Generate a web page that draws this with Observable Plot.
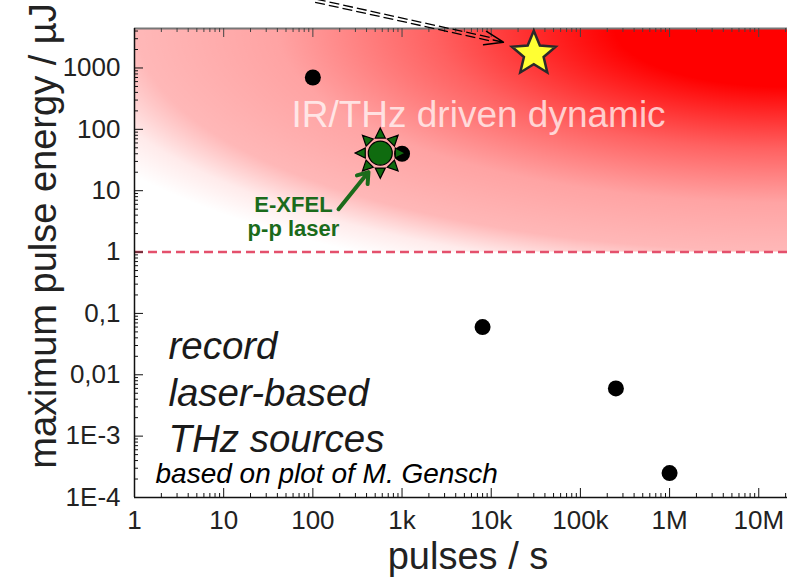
<!DOCTYPE html>
<html><head><meta charset="utf-8">
<script src="https://cdn.jsdelivr.net/npm/d3@7"></script>
<script src="https://cdn.jsdelivr.net/npm/@observablehq/plot@0.6"></script>
<style>body{margin:0;background:#fff} svg{display:block}</style>
</head><body><div id="chart"></div>
<script>
// ---- data ----
const pulseRates = [100, 1000, 8000, 250000, 1000000];
const pulseEnergies = [700, 40, 0.06, 0.006, 0.00025];
const starRate = [30000];
const starEnergy = [1700];
const xfelRate = [570];
const xfelEnergy = [41];
const thresholdEnergy = [1];
const xTicks = [1, 10, 100, 1e3, 1e4, 1e5, 1e6, 1e7];
const xTickLabels = ["1", "10", "100", "1k", "10k", "100k", "1M", "10M"];
const yTicks = [1e-4, 1e-3, 1e-2, 1e-1, 1, 10, 100, 1000];
const yTickLabels = ["1E-4", "1E-3", "0,01", "0,1", "1", "10", "100", "1000"];
const xDomain = [1, 2.1e7];
const yDomain = [1e-4, 4400];

// ---- layout ----
const W = 787, H = 578, mL = 134, mR = 0, mT = 28, mB = 81;
const frameW = W - mL - mR, frameH = H - mT - mB;

const xLabel = new Map(xTicks.map((d, i) => [d, xTickLabels[i]]));
const yLabel = new Map(yTicks.map((d, i) => [d, yTickLabels[i]]));
const xMinor = xTicks.flatMap(d => d3.range(2, 10).map(k => k * d)).filter(v => v < xDomain[1]);
const yMinor = yTicks.flatMap(d => d3.range(2, 10).map(k => k * d)).filter(v => v < yDomain[1]);

const sunSymbol = {
  draw(ctx, size) {
    const r = Math.sqrt(size / Math.PI);
    ctx.moveTo(r, 0); ctx.arc(0, 0, r, 0, 2 * Math.PI);
    for (let k = 0; k < 8; k++) {
      const a = k * Math.PI / 4, c = Math.cos(a), s = Math.sin(a);
      const r1 = r * 1.25, r2 = r * 2.1, hw = r * 0.42;
      ctx.moveTo(r2 * c, r2 * s);
      ctx.lineTo(r1 * c - hw * s, r1 * s + hw * c);
      ctx.lineTo(r1 * c + hw * s, r1 * s - hw * c);
      ctx.closePath();
    }
  }
};
const starSymbol = {
  draw(ctx, size) {
    const R = Math.sqrt(size / Math.PI), ri = R * 0.45;
    for (let k = 0; k < 10; k++) {
      const a = -Math.PI / 2 + k * Math.PI / 5, rr = k % 2 ? ri : R;
      const px = rr * Math.cos(a), py = rr * Math.sin(a);
      k ? ctx.lineTo(px, py) : ctx.moveTo(px, py);
    }
    ctx.closePath();
  }
};

const gradStops = [[0, 1], [0.22, 1], [0.45, 0.62], [0.65, 0.36], [0.83, 0.28], [0.92, 0.08], [1, 0]];
const defsMark = () => {
  const defs = d3.create("svg:defs");
  const g = defs.append("radialGradient").attr("id", "thzGrad")
    .attr("cx", 1).attr("cy", 0).attr("fx", 1).attr("fy", 0).attr("r", 1.2);
  for (const [o, a] of gradStops)
    g.append("stop").attr("offset", o).attr("stop-color", "#ff0000").attr("stop-opacity", a);
  return defs.node();
};

const chart = Plot.plot({
  width: W, height: H,
  marginLeft: mL, marginRight: mR, marginTop: mT, marginBottom: mB,
  style: {fontFamily: "'Liberation Sans', Arial, sans-serif", background: "#fff", overflow: "visible"},
  x: {type: "log", domain: xDomain},
  y: {type: "log", domain: yDomain},
  marks: [
    defsMark,
    Plot.rect([0], {x1: xDomain[0], x2: xDomain[1], y1: thresholdEnergy[0], y2: yDomain[1], fill: "url(#thzGrad)"}),
    Plot.ruleY(thresholdEnergy, {y: d => d, stroke: "#e4506c", strokeWidth: 2.5, strokeDasharray: "9,5"}),
    // frame lines
    Plot.ruleY([yDomain[1]], {y: d => d, stroke: "#777", strokeWidth: 2}),
    Plot.ruleY([yDomain[0]], {y: d => d, stroke: "#111", strokeWidth: 1.5}),
    Plot.ruleX([xDomain[0]], {x: d => d, stroke: "#111", strokeWidth: 1.5}),
    // inward ticks
    Plot.tickX(xTicks, {x: d => d, insetTop: frameH - 9, stroke: "#111"}),
    Plot.tickX(xMinor, {x: d => d, insetTop: frameH - 4, stroke: "#111"}),
    Plot.tickX(xTicks.filter(d => d > 1), {x: d => d, insetBottom: frameH - 9, stroke: "#444"}),
    Plot.tickX(xMinor, {x: d => d, insetBottom: frameH - 4, stroke: "#444"}),
    Plot.tickY(yTicks, {y: d => d, insetRight: frameW - 9, stroke: "#111"}),
    Plot.tickY(yMinor, {y: d => d, insetRight: frameW - 4, stroke: "#111"}),
    // tick labels
    Plot.axisX(xTicks, {anchor: "bottom", tickSize: 0, tickPadding: 13, tickFormat: d => xLabel.get(d), fontSize: 26, color: "#222", label: null}),
    Plot.axisY(yTicks, {anchor: "left", tickSize: 0, tickPadding: 14, tickFormat: d => yLabel.get(d), fontSize: 26, color: "#222", label: null}),
    // axis titles
    Plot.text(["pulses / s"], {text: d => d, frameAnchor: "bottom", textAnchor: "middle", lineAnchor: "middle", dx: 7, dy: 59, fontSize: 38, fill: "#222"}),
    Plot.text(["maximum pulse energy / µJ"], {text: d => d, frameAnchor: "left", textAnchor: "middle", lineAnchor: "middle", rotate: -90, dx: -91, dy: -27, fontSize: 38, fill: "#222"}),
    // annotations
    Plot.text(["IR/THz driven dynamic"], {text: d => d, x: 7200, y: 170, fontSize: 37, fill: "#fff", fillOpacity: 0.72}),
    Plot.text(["record\nlaser-based\nTHz sources"], {text: d => d, x: 2.4, y: 0.00545, textAnchor: "start", lineHeight: 1.21, fontSize: 38.5, fontStyle: "italic", fill: "#1a1a1a"}),
    Plot.text(["based on plot of M. Gensch"], {text: d => d, x: 1.72, y: 2.42e-4, textAnchor: "start", fontSize: 28, fontStyle: "italic", fill: "#000"}),
    Plot.text(["E-XFEL\np-p laser"], {text: d => d, x: 60.6, y: 3.86, fontSize: 22, fontWeight: "bold", lineHeight: 1.09, fill: "#1b6b1b"}),
    Plot.arrow([0], {x1: 194, y1: 5.0, x2: 420, y2: 20.1, stroke: "#1b6b1b", strokeWidth: 4, headLength: 4.5, headAngle: 70}),
    // dashed double arrow to the star
    Plot.link([0], {x1: 107, y1: 12500, x2: 9800, y2: 2945, stroke: "#000", strokeWidth: 1.3, strokeDasharray: "10,4", dx: 0.35, dy: -1.6}),
    Plot.link([0], {x1: 107, y1: 12500, x2: 9800, y2: 2945, stroke: "#000", strokeWidth: 1.3, strokeDasharray: "10,4", dx: -0.35, dy: 1.6}),
    Plot.arrow([0], {x1: 107, y1: 12500, x2: 13700, y2: 2630, stroke: "#000", strokeWidth: 1.5, headLength: 20, headAngle: 40, insetStart: 182}),
    // data points
    Plot.dot(pulseRates.map((x, i) => ({x, y: pulseEnergies[i]})), {x: "x", y: "y", r: 8, fill: "#000"}),
    Plot.dot(xfelRate.map((x, i) => ({x, y: xfelEnergy[i]})), {x: "x", y: "y", r: 12, symbol: sunSymbol, fill: "#0f6b0f", stroke: "#000", strokeWidth: 1.2}),
    Plot.dot(starRate.map((x, i) => ({x, y: starEnergy[i]})), {x: "x", y: "y", r: 23, symbol: starSymbol, fill: "#ffff33", stroke: "#2a2a2a", strokeWidth: 2.5})
  ]
});
document.getElementById("chart").appendChild(chart);
</script>
</body></html>
